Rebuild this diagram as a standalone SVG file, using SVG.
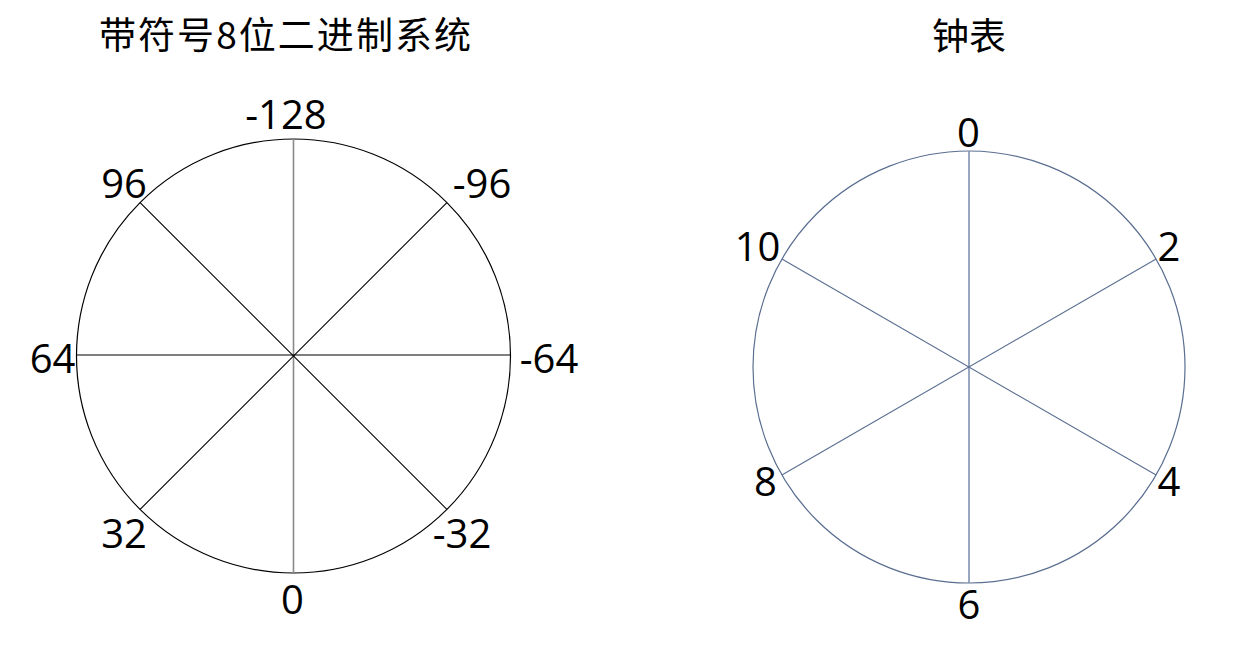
<svg xmlns="http://www.w3.org/2000/svg" width="1244" height="661" viewBox="0 0 1244 661">
  <style>
    .title { font-family: "Noto Sans CJK SC", "Noto Sans", sans-serif; font-size: 37px; fill: #000; }
    .lbl { font-family: "Open Sans", "Noto Sans", sans-serif; font-size: 40px; fill: #000; text-anchor: middle; }
    .ringL { fill: none; stroke: #000; stroke-width: 1.2; }
    .spokeL { stroke: #000; stroke-width: 1.1; }
    .spokeLv { stroke: #8a8a8a; stroke-width: 1.6; }
    .ringR { fill: none; stroke: #5a6e90; stroke-width: 1.2; }
    .spokeR { stroke: #5a6e90; stroke-width: 1.1; }
    .spokeRv { stroke: #7f92b0; stroke-width: 1.6; }
  </style>
  <rect width="1244" height="661" fill="#fff"/>

  <g id="title-left">
    <text class="title" x="99" y="49" textLength="372" lengthAdjust="spacing">带符号8位二进制系统</text>
  </g>
  <g id="title-right">
    <text class="title" x="969" y="50" text-anchor="middle">钟表</text>
  </g>

  <g id="dial-left">
    <circle class="ringL" cx="293.5" cy="356" r="217"/>
  </g>
  <g id="connectors-left">
    <line class="spokeLv" x1="293.5" y1="139" x2="293.5" y2="573"/>
    <line class="spokeL" x1="76.5" y1="355" x2="510.5" y2="355"/>
    <line class="spokeL" x1="140.1" y1="202.6" x2="446.9" y2="509.4"/>
    <line class="spokeL" x1="446.9" y1="202.6" x2="140.1" y2="509.4"/>
  </g>
  <g id="labels-left">
    <text class="lbl" x="286" y="129">-128</text>
    <text class="lbl" x="124" y="198">96</text>
    <text class="lbl" x="482" y="198">-96</text>
    <text class="lbl" x="52.5" y="373">64</text>
    <text class="lbl" x="549" y="373">-64</text>
    <text class="lbl" x="124" y="548">32</text>
    <text class="lbl" x="462" y="548">-32</text>
    <text class="lbl" x="292.5" y="614">0</text>
  </g>

  <g id="dial-right">
    <circle class="ringR" cx="969" cy="367" r="216"/>
  </g>
  <g id="connectors-right">
    <line class="spokeRv" x1="969" y1="151" x2="969" y2="583"/>
    <line class="spokeR" x1="781.9" y1="259" x2="1156.1" y2="475"/>
    <line class="spokeR" x1="1156.1" y1="259" x2="781.9" y2="475"/>
  </g>
  <g id="labels-right">
    <text class="lbl" x="968.5" y="147">0</text>
    <text class="lbl" x="1169" y="261">2</text>
    <text class="lbl" x="757.5" y="261">10</text>
    <text class="lbl" x="1169" y="496">4</text>
    <text class="lbl" x="765.5" y="496">8</text>
    <text class="lbl" x="969" y="619">6</text>
  </g>
</svg>
